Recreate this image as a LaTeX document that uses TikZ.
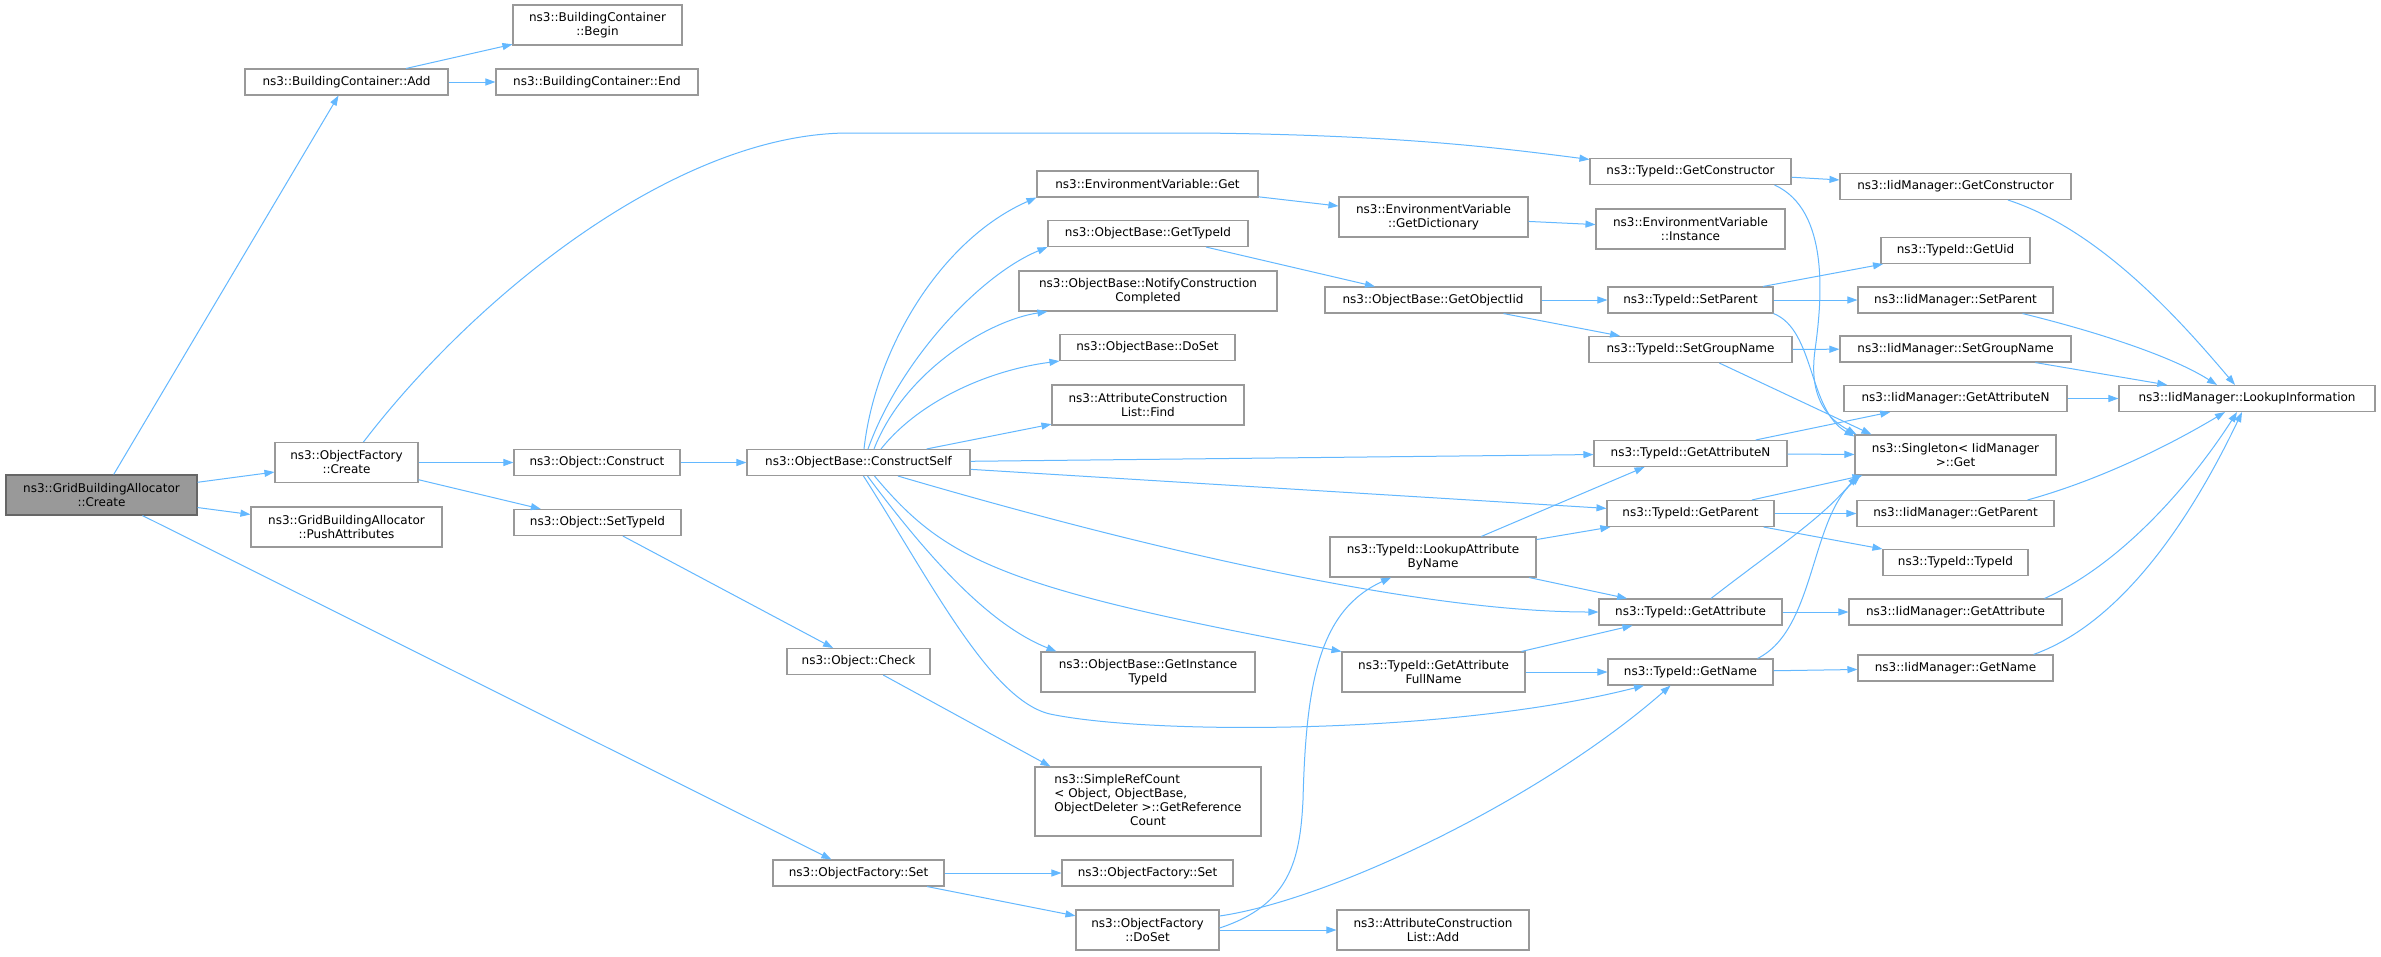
\documentclass[tikz,border=0pt]{standalone}
\usepackage{fontspec}
\setmainfont{DejaVu Sans}
\usetikzlibrary{arrows.meta}
\definecolor{edgec}{HTML}{63B8FF}
\definecolor{bord}{HTML}{999999}
\definecolor{rootfill}{HTML}{999999}
\definecolor{rootbord}{HTML}{666666}
\tikzset{
 box/.style={draw=bord, line width=1.1pt, fill=white, inner sep=0pt, align=center, font=\fontsize{12}{14}\selectfont},
 sz/.style 2 args={minimum width=#1pt, minimum height=#2pt},
 root/.style={box, fill=rootfill, draw=rootbord},
 calls/.style={draw=edgec, line width=1pt, -{Triangle[length=10pt,width=7pt]}},
}
\begin{document}
\begin{tikzpicture}[x=1pt,y=-1pt]
\fill[white] (0,0) rectangle (2381,956);
\useasboundingbox (0,0) rectangle (2381,956);

\node[root, sz={191}{40}] (gba) at (101.5,495) {ns3::GridBuildingAllocator\\::Create};
\node[box, sz={203}{26}] (add) at (346.5,82) {ns3::BuildingContainer::Add};
\node[box, sz={169}{40}] (begin) at (597.5,25) {ns3::BuildingContainer\\::Begin};
\node[box, sz={202}{26}] (end) at (597,82) {ns3::BuildingContainer::End};
\node[box, sz={143}{40}] (ofcreate) at (346.5,462.5) {ns3::ObjectFactory\\::Create};
\node[box, sz={166}{26}] (construct) at (597,462.5) {ns3::Object::Construct};
\node[box, sz={191}{40}] (push) at (346.5,527) {ns3::GridBuildingAllocator\\::PushAttributes};
\node[box, sz={167}{26}] (settypeid) at (597.5,522.5) {ns3::Object::SetTypeId};
\node[box, sz={223}{26}] (cself) at (858.5,462.5) {ns3::ObjectBase::ConstructSelf};
\node[box, sz={221}{26}] (evget) at (1147.5,184) {ns3::EnvironmentVariable::Get};
\node[box, sz={200}{26}] (obtid) at (1148,233.5) {ns3::ObjectBase::GetTypeId};
\node[box, sz={258}{40}] (notify) at (1148,291) {ns3::ObjectBase::NotifyConstruction\\Completed};
\node[box, sz={175}{26}] (obdoset) at (1147.5,347.5) {ns3::ObjectBase::DoSet};
\node[box, sz={192}{40}] (find) at (1148,405) {ns3::AttributeConstruction\\List::Find};
\node[box, sz={143}{26}] (check) at (858.5,661.5) {ns3::Object::Check};
\node[box, sz={214}{40}] (instance) at (1148,672) {ns3::ObjectBase::GetInstance\\TypeId};
\node[box, sz={226}{69}] (refcount) at (1148,801.5) {\begin{tabular}{@{}l@{}}ns3::SimpleRefCount\\< Object, ObjectBase,\\ObjectDeleter >::GetReference\\\multicolumn{1}{@{}c@{}}{Count}\end{tabular}};
\node[box, sz={171}{26}] (ofset) at (858.5,873) {ns3::ObjectFactory::Set};
\node[box, sz={171}{26}] (ofsetb) at (1147.5,873) {ns3::ObjectFactory::Set};
\node[box, sz={143}{40}] (ofdoset) at (1147.5,930) {ns3::ObjectFactory\\::DoSet};
\node[box, sz={201}{26}] (tctor) at (1690.5,171.5) {ns3::TypeId::GetConstructor};
\node[box, sz={189}{40}] (dict) at (1433.5,217) {ns3::EnvironmentVariable\\::GetDictionary};
\node[box, sz={189}{40}] (evinst) at (1690.5,229) {ns3::EnvironmentVariable\\::Instance};
\node[box, sz={216}{26}] (objiid) at (1433,300) {ns3::ObjectBase::GetObjectIid};
\node[box, sz={165}{26}] (tsetpar) at (1690.5,300) {ns3::TypeId::SetParent};
\node[box, sz={203}{26}] (tsetgrp) at (1690.5,349.5) {ns3::TypeId::SetGroupName};
\node[box, sz={193}{26}] (tattrn) at (1690.5,453.5) {ns3::TypeId::GetAttributeN};
\node[box, sz={167}{26}] (tpar) at (1690.5,513.5) {ns3::TypeId::GetParent};
\node[box, sz={206}{40}] (lookup) at (1433,557) {ns3::TypeId::LookupAttribute\\ByName};
\node[box, sz={183}{26}] (tattr) at (1690.5,612) {ns3::TypeId::GetAttribute};
\node[box, sz={183}{40}] (fullname) at (1433.5,672) {ns3::TypeId::GetAttribute\\FullName};
\node[box, sz={165}{26}] (tname) at (1690.5,672) {ns3::TypeId::GetName};
\node[box, sz={192}{40}] (acladd) at (1433,930) {ns3::AttributeConstruction\\List::Add};
\node[box, sz={231}{26}] (ictor) at (1955.5,186.5) {ns3::IidManager::GetConstructor};
\node[box, sz={149}{26}] (uid) at (1955.5,250.5) {ns3::TypeId::GetUid};
\node[box, sz={195}{26}] (isetpar) at (1955.5,300) {ns3::IidManager::SetParent};
\node[box, sz={231}{26}] (isetgrp) at (1955.5,349) {ns3::IidManager::SetGroupName};
\node[box, sz={223}{26}] (iattrn) at (1955.5,398.5) {ns3::IidManager::GetAttributeN};
\node[box, sz={256}{26}] (linfo) at (2247,398.5) {ns3::IidManager::LookupInformation};
\node[box, sz={201}{40}] (single) at (1955.5,455) {ns3::Singleton< IidManager\\>::Get};
\node[box, sz={197}{26}] (ipar) at (1955.5,513.5) {ns3::IidManager::GetParent};
\node[box, sz={145}{26}] (tidctor) at (1955.5,562.5) {ns3::TypeId::TypeId};
\node[box, sz={213}{26}] (iattr) at (1955.5,612) {ns3::IidManager::GetAttribute};
\node[box, sz={195}{26}] (iname) at (1955.5,668) {ns3::IidManager::GetName};

\draw[calls] (gba) -- (add);
\draw[calls] (gba) -- (ofcreate);
\draw[calls] (gba) -- (push);
\draw[calls] (gba) -- (ofset);
\draw[calls] (add) -- (begin);
\draw[calls] (add) -- (end);
\draw[calls] ([xshift=17pt]ofcreate.north) .. controls (480,290) and (680,133) .. (849,133) -- (1200,133) .. controls (1400,135) and (1500,148) .. ([yshift=-1.5pt]tctor.north west);
\draw[calls] (ofcreate) -- (construct);
\draw[calls] (ofcreate) -- (settypeid);
\draw[calls] (construct) -- (cself);
\draw[calls] (settypeid) -- (check);
\draw[calls] (check) -- ([xshift=16pt]refcount.north west);
\draw[calls] (ofset) -- (ofsetb);
\draw[calls] (ofset) -- (ofdoset);
\draw[calls] ([xshift=5.5pt]cself.north) .. controls (875,350) and (940,240) .. (evget.south west);
\draw[calls] ([xshift=9.5pt]cself.north) .. controls (900,360) and (980,275) .. (obtid.south west);
\draw[calls] ([xshift=15.5pt]cself.north) .. controls (905,370) and (990,320) .. ([xshift=29pt]notify.south west);
\draw[calls] ([xshift=22.5pt]cself.north) .. controls (920,400) and (990,370) .. (obdoset.south west);
\draw[calls] (cself) -- (find);
\draw[calls] (cself) -- (tattrn);
\draw[calls] (cself) -- (tpar);
\draw[calls] ([xshift=39.5pt]cself.south) .. controls (1150,550) and (1420,612) .. (tattr.west);
\draw[calls] ([xshift=16pt]cself.south) .. controls (945,560) and (1000,588) .. (fullname.north west);
\draw[calls] ([xshift=9pt]cself.south) .. controls (930,560) and (990,625) .. ([xshift=16pt]instance.north west);
\draw[calls] ([xshift=5pt]cself.south) .. controls (930,580) and (990,700) .. (1050,714) .. controls (1150,735) and (1450,735) .. ([xshift=-46.5pt]tname.south);
\draw[calls] (evget) -- (dict);
\draw[calls] (dict) -- (evinst);
\draw[calls] (obtid) -- (objiid);
\draw[calls] (objiid) -- (tsetpar);
\draw[calls] (objiid) -- (tsetgrp);
\draw[calls] (tctor) -- (ictor);
\draw[calls] ([xshift=-17pt]tctor.south east) .. controls (1830,210) and (1822,300) .. (1815,350) .. controls (1808,400) and (1830,420) .. ([xshift=2pt]single.north west);
\draw[calls] (tsetpar) -- (uid);
\draw[calls] (tsetpar) -- (isetpar);
\draw[calls] (tsetpar.south east) .. controls (1815,330) and (1808,410) .. ([yshift=-2pt]single.north west);
\draw[calls] (tsetgrp) -- (isetgrp);
\draw[calls] (tsetgrp) -- ([xshift=17pt]single.north west);
\draw[calls] (tattrn) -- (iattrn);
\draw[calls] (tattrn) -- (single);
\draw[calls] (tpar) -- (single);
\draw[calls] (tpar) -- (ipar);
\draw[calls] (tpar) -- (tidctor);
\draw[calls] ([xshift=20.5pt]tattr.north) .. controls (1780,545) and (1820,520) .. ([xshift=3pt]single.south west);
\draw[calls] (tattr) -- (iattr);
\draw[calls] ([xshift=-16pt]tname.north east) .. controls (1815,630) and (1810,520) .. ([xshift=6pt]single.south west);
\draw[calls] (tname) -- (iname);
\draw[calls] (lookup) -- ([xshift=-46pt]tattrn.south);
\draw[calls] (lookup) -- (tpar);
\draw[calls] (lookup) -- (tattr);
\draw[calls] (fullname) -- (tattr);
\draw[calls] (fullname) -- (tname);
\draw[calls] ([yshift=2pt]ofdoset.east) .. controls (1290,905) and (1300,860) .. (1303,800) .. controls (1306,680) and (1320,610) .. ([xshift=-42pt]lookup.south);
\draw[calls] ([yshift=14pt]ofdoset.east) .. controls (1330,900) and (1540,800) .. ([xshift=-20pt]tname.south);
\draw[calls] (ofdoset) -- (acladd);
\draw[calls] ([xshift=52.5pt]ictor.south) .. controls (2100,230) and (2180,320) .. ([xshift=-12pt]linfo.north);
\draw[calls] ([xshift=67pt]isetpar.south) .. controls (2090,330) and (2170,355) .. ([xshift=-30pt]linfo.north);
\draw[calls] (isetgrp) -- (linfo);
\draw[calls] (iattrn) -- (linfo);
\draw[calls] ([xshift=-27pt]ipar.north east) .. controls (2100,480) and (2170,445) .. ([xshift=-22pt]linfo.south);
\draw[calls] ([xshift=-18pt]iattr.north east) .. controls (2130,560) and (2200,470) .. ([xshift=-10pt]linfo.south);
\draw[calls] ([xshift=-20pt]iname.north east) .. controls (2130,620) and (2200,500) .. ([xshift=-5pt]linfo.south);
\end{tikzpicture}
\end{document}
